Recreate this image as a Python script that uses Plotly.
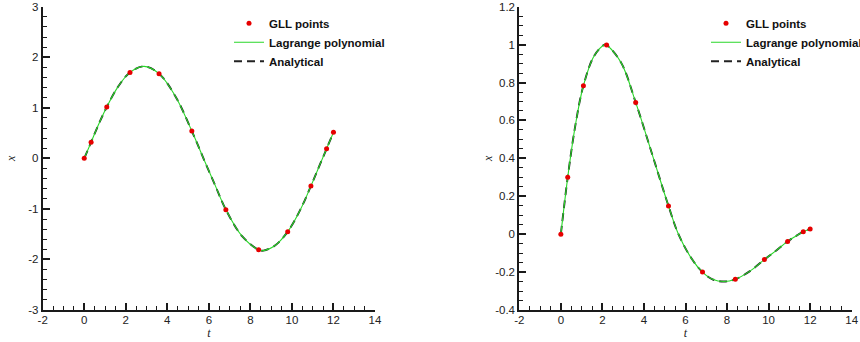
import plotly.graph_objects as go

# ---------------- data ----------------
t_gll = [0, 0.331, 1.085, 2.203, 3.602, 5.181, 6.819, 8.398, 9.797, 10.915, 11.669, 12]
x1_gll = [0, 0.32, 1.015, 1.70, 1.675, 0.54, -1.015, -1.81, -1.45, -0.547, 0.19, 0.514]
x2_gll = [0, 0.30, 0.783, 0.998, 0.695, 0.149, -0.200, -0.238, -0.134, -0.038, 0.013, 0.027]

t_curve1 = [0, 0.331, 0.7, 1.085, 1.6, 2.203, 2.88, 3.602, 4.4, 5.181, 5.74, 6.3,
            6.819, 7.6, 8.398, 8.63, 9.2, 9.797, 10.4, 10.915, 11.3, 11.669, 12]
x1_curve = [0, 0.32, 0.68, 1.015, 1.40, 1.70, 1.82, 1.675, 1.22, 0.54, 0.0, -0.53,
            -1.015, -1.54, -1.81, -1.825, -1.72, -1.45, -1.02, -0.547, -0.17, 0.19, 0.514]

t_curve2 = [0, 0.331, 0.7, 1.085, 1.6, 2.1, 2.203, 2.9, 3.602, 4.4, 5.181, 5.66, 6.3,
            6.819, 7.3, 7.85, 8.398, 9.1, 9.797, 10.4, 10.915, 11.3, 11.669, 12]
x2_curve = [0, 0.30, 0.575, 0.783, 0.94, 1.0, 0.998, 0.905, 0.695, 0.42, 0.149, 0.0, -0.13,
            -0.200, -0.238, -0.25, -0.238, -0.195, -0.134, -0.083, -0.038, -0.011, 0.013, 0.027]

x_tickvals = [-2, 0, 2, 4, 6, 8, 10, 12, 14]
x_ticktext = ["-2", "0", "2", "4", "6", "8", "10", "12", "14"]
y1_tickvals = [-3, -2, -1, 0, 1, 2, 3]
y1_ticktext = ["-3", "-2", "-1", "0", "1", "2", "3"]
y2_tickvals = [-0.4, -0.2, 0, 0.2, 0.4, 0.6, 0.8, 1.0, 1.2]
y2_ticktext = ["-0.4", "-0.2", "0", "0.2", "0.4", "0.6", "0.8", "1", "1.2"]

names = ["GLL points", "Lagrange polynomial", "Analytical"]

GREEN = "rgb(40,215,40)"
RED = "rgb(230,0,0)"
DARK = "#1a1a1a"
FONT = "Liberation Sans, Arial, sans-serif"

fig = go.Figure()

panels = [
    ("x", "y", "legend", t_curve1, x1_curve, x1_gll),
    ("x2", "y2", "legend2", t_curve2, x2_curve, x2_gll),
]
for xa, ya, lg, tc, xc, xg in panels:
    fig.add_trace(go.Scatter(x=tc, y=xc, mode="lines", name=names[2],
                             line=dict(color="#222222", width=1.9, dash="8px,5px", shape="spline"),
                             xaxis=xa, yaxis=ya, legend=lg, legendrank=3))
    fig.add_trace(go.Scatter(x=tc, y=xc, mode="lines", name=names[1],
                             line=dict(color=GREEN, width=1.1, shape="spline"),
                             xaxis=xa, yaxis=ya, legend=lg, legendrank=2))
    fig.add_trace(go.Scatter(x=t_gll, y=xg, mode="markers", name=names[0],
                             marker=dict(color=RED, size=5),
                             xaxis=xa, yaxis=ya, legend=lg, legendrank=1))

W, H = 860, 342


def px_x(v):
    return min(max(v / W, 0), 1)


def px_y(v):
    return min(max(1 - v / H, 0), 1)


def xaxis(domain, anchor):
    return dict(domain=domain, anchor=anchor, range=[-2, 14], showgrid=False, zeroline=False,
                showline=True, linecolor=DARK, linewidth=2,
                ticks="inside", ticklen=7, tickwidth=1.5, tickcolor=DARK,
                tickmode="array", tickvals=x_tickvals, ticktext=x_ticktext,
                minor=dict(ticks="inside", ticklen=4, tickwidth=1.2, tickcolor=DARK,
                           tickmode="linear", tick0=-2, dtick=0.5),
                tickfont=dict(family=FONT, size=11.5, color="#222"),
                ticklabelstandoff=-2, ticklabeloverflow="allow",
                title=dict(text="<i>t</i>", font=dict(family="Liberation Serif, serif", size=12, color="#222"),
                           standoff=0))


def yaxis(domain, anchor, rng, tv, tt, minor_d, standoff):
    return dict(domain=domain, anchor=anchor, range=rng, showgrid=False, zeroline=False,
                showline=True, linecolor=DARK, linewidth=2,
                ticks="inside", ticklen=7, tickwidth=1.5, tickcolor=DARK,
                tickmode="array", tickvals=tv, ticktext=tt,
                minor=dict(ticks="inside", ticklen=4, tickwidth=1.2, tickcolor=DARK,
                           tickmode="linear", tick0=rng[0], dtick=minor_d),
                tickfont=dict(family=FONT, size=11.5, color="#222"),
                ticklabeloverflow="allow",
                title=dict(text="<i>x</i>", font=dict(family="Liberation Serif, serif", size=12, color="#222"),
                           standoff=standoff))


ydom = [px_y(310), px_y(6.7)]
legend_font = dict(family=FONT, size=11.5, color="#111", weight="bold")
fig.update_layout(
    width=W, height=H,
    margin=dict(l=0, r=0, t=0, b=0, autoexpand=False),
    paper_bgcolor="white", plot_bgcolor="white",
    xaxis=xaxis([px_x(42.7), px_x(375)], "y"),
    yaxis=yaxis(ydom, "x", [-3, 3], y1_tickvals, y1_ticktext, 0.2, 10),
    xaxis2=xaxis([px_x(519.3), px_x(851.7)], "y2"),
    yaxis2=yaxis(ydom, "x2", [-0.4, 1.2], y2_tickvals, y2_ticktext, 0.05, 0),
    legend=dict(x=229 / W, y=1 - 8.8 / H, xanchor="left", yanchor="top",
                bgcolor="rgba(0,0,0,0)", borderwidth=0, tracegroupgap=0, font=legend_font),
    legend2=dict(x=706 / W, y=1 - 8.8 / H, xanchor="left", yanchor="top",
                 bgcolor="rgba(0,0,0,0)", borderwidth=0, tracegroupgap=0, font=legend_font),
)

# remove the default 8px page margin so the figure sits at the window's top-left corner
fig.write_html("out.html", config={"displayModeBar": False},
               post_script="document.body.style.margin='0px';")
